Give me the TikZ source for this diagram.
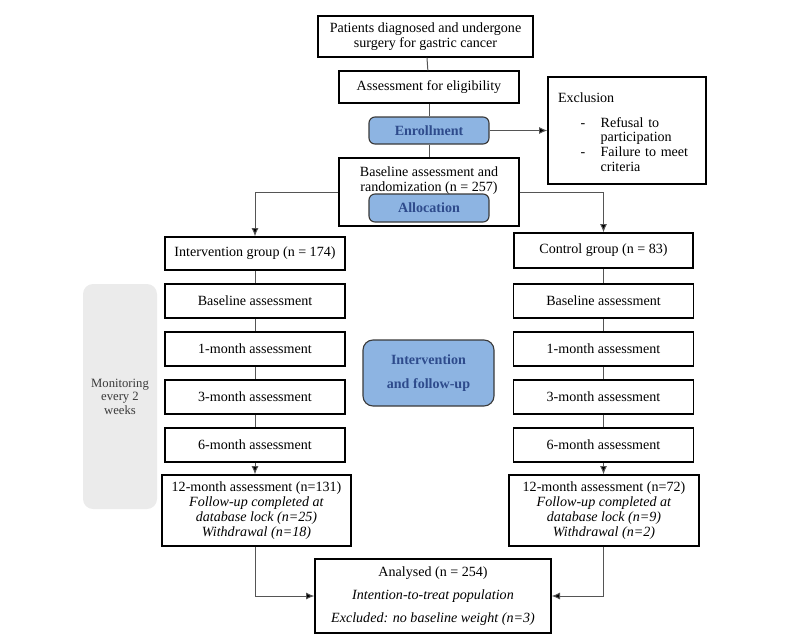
\documentclass[tikz,border=0pt]{standalone}
\usepackage{fontspec}
\setmainfont{Liberation Serif}
\usetikzlibrary{arrows.meta}
\newcommand{\unitpx}{0.025cm}

\begin{document}
\begin{tikzpicture}[x=0.025cm, y=-0.025cm,
  boite/.style={draw=black, line width=0.8pt, fill=white, align=center, inner sep=2pt,
    font=\fontsize{10}{10.5}\selectfont},
  etape/.style={boite, minimum width=180*\unitpx, minimum height=34*\unitpx},
  phase/.style={draw=bordPhase, line width=0.8pt, fill=bleuPhase, rounded corners=1.5mm,
    text=texteBleu, align=center, font=\fontsize{10}{11}\selectfont\bfseries},
  lien/.style={draw=grisLien, line width=0.7pt},
  fleche/.style={lien, -{Latex[length=6pt,width=5pt,fill=black]}}]

% Couleurs
\definecolor{bleuPhase}{HTML}{8DB4E2}
\definecolor{bordPhase}{HTML}{3A3A3A}
\definecolor{texteBleu}{HTML}{2E4B8C}
\definecolor{grisLien}{HTML}{555555}
\definecolor{grisFond}{HTML}{EBEBEB}
\definecolor{grisTexte}{HTML}{3A3A3A}

\useasboundingbox (0,0) rectangle (800,640);

% Bande de suivi
\node[fill=grisFond, rounded corners=2.5mm, minimum width=74*\unitpx, minimum height=225*\unitpx,
  text=grisTexte, align=center, font=\fontsize{9}{9.6}\selectfont] (suivi) at (120,396.5)
  {Monitoring\\every 2\\weeks};

% Boites du haut
\node[boite, minimum width=215*\unitpx, minimum height=41*\unitpx] (patients) at (425.5,36.5)
  {Patients diagnosed and undergone\\surgery for gastric cancer};
\node[boite, minimum width=180*\unitpx, minimum height=32*\unitpx] (eligibilite) at (429,87)
  {Assessment for eligibility};
\node[phase, minimum width=120*\unitpx, minimum height=27*\unitpx] (enrollment) at (429,130.5)
  {Enrollment};
\node[boite, align=left, text width=138*\unitpx, inner xsep=10*\unitpx,
  minimum height=107*\unitpx] (exclusion) at (627,130.5)
  {\rule{0pt}{12.5pt}Exclusion\\[9pt]
   \begin{tabular}{@{\hspace{16pt}}l@{\hspace{11pt}}l@{}}
   - & Refusal to\\
     & participation\\
   - & Failure to meet\\
     & criteria
   \end{tabular}};
\node[boite, minimum width=180*\unitpx, minimum height=68*\unitpx,
  label={[name=baseTexte, anchor=north, align=center, inner sep=6.5pt,
    font=\fontsize{10}{10.5}\selectfont]north:Baseline assessment and\\randomization (n = 257)}]
  (base) at (429,192) {};
\node[phase, minimum width=120*\unitpx, minimum height=28*\unitpx] (allocation) at (429,208)
  {Allocation};

% Groupes
\node[boite, minimum width=180*\unitpx, minimum height=33*\unitpx] (intervention) at (255,253.5)
  {Intervention group (n = 174)};
\node[boite, minimum width=179*\unitpx, minimum height=35*\unitpx] (controle) at (603.5,250.5)
  {Control group (n = 83)};

% Evaluations
\foreach \nom/\y/\txt in {ba/301/Baseline assessment, m1/349/1-month assessment,
  m3/397/3-month assessment, m6/445/6-month assessment}{
  \node[etape] (g\nom) at (255,\y) {\txt};
  \node[etape] (d\nom) at (603.5,\y) {\txt};
}

\node[phase, minimum width=131*\unitpx, minimum height=66*\unitpx, rounded corners=2.5mm]
  (interventionSuivi) at (428.5,373) {Intervention\\[6pt]and follow-up};

\node[boite, minimum width=189*\unitpx, minimum height=71*\unitpx] (g12) at (256.5,510.5)
  {12-month assessment (n=131)\\\textit{Follow-up completed at}\\
   \textit{database lock (n=25)}\\\textit{Withdrawal (n=18)}};
\node[boite, minimum width=190*\unitpx, minimum height=71*\unitpx] (d12) at (604,510.5)
  {12-month assessment (n=72)\\\textit{Follow-up completed at}\\
   \textit{database lock (n=9)}\\\textit{Withdrawal (n=2)}};

\node[boite, minimum width=236*\unitpx, minimum height=74*\unitpx] (analyse) at (433,596)
  {Analysed (n = 254)\\[6pt]\textit{Intention-to-treat population}\\[6pt]
   \textit{Excluded: no baseline weight (n=3)}};

% Liens
\draw[lien] (patients) -- (eligibilite);
\draw[lien] (eligibilite) -- (enrollment);
\draw[lien] (enrollment) -- (base);
\draw[fleche] (enrollment) -- (exclusion);
\draw[fleche] (base.west) -| (intervention.north);
\draw[fleche] (base.east) -| (controle.north);
\draw[lien] (intervention) -- (gba);
\draw[lien] (controle.south) -- (controle.south |- dba.north);
\foreach \a/\b in {ba/m1, m1/m3, m3/m6}{
  \draw[lien] (g\a) -- (g\b);
  \draw[lien] (d\a) -- (d\b);
}
\draw[fleche] (gm6.south) -- (gm6.south |- g12.north);
\draw[fleche] (dm6.south) -- (dm6.south |- d12.north);
\draw[fleche] (gm6.south |- g12.south) |- (analyse.west);
\draw[fleche] (dm6.south |- d12.south) |- (analyse.east);

\end{tikzpicture}
\end{document}
